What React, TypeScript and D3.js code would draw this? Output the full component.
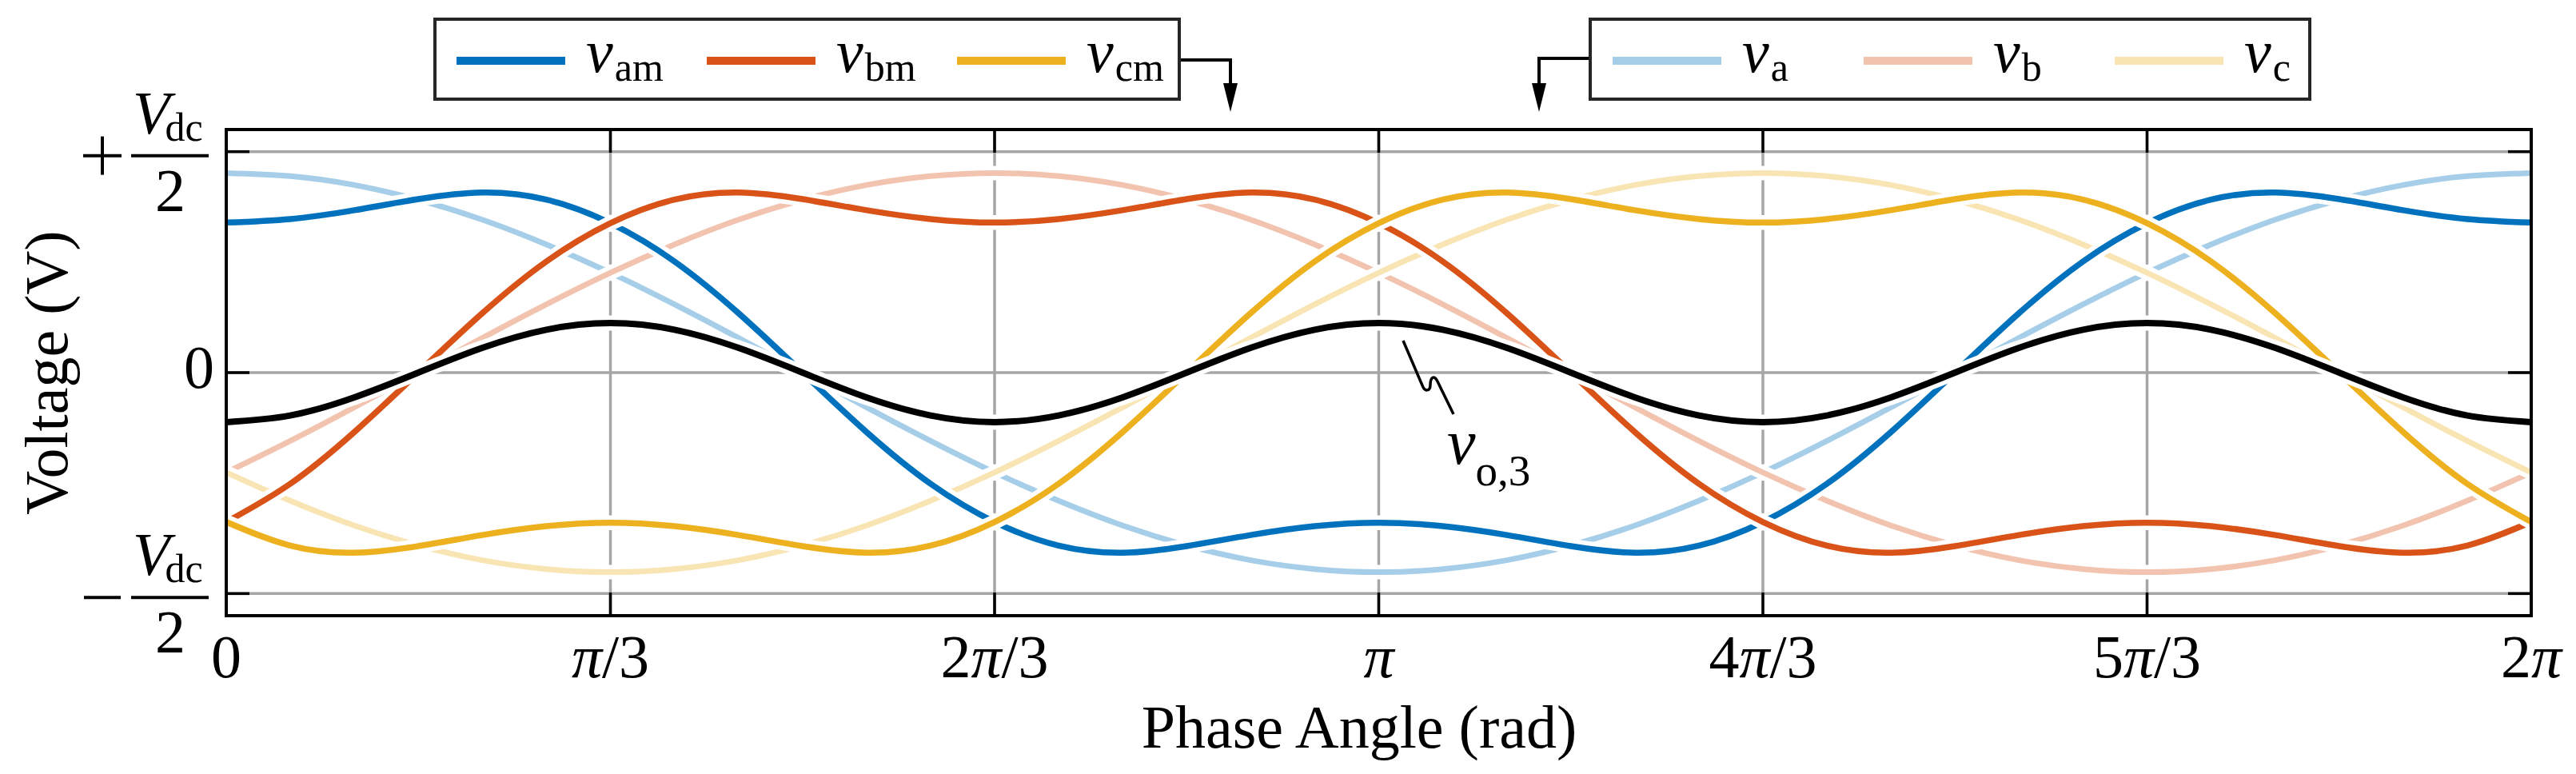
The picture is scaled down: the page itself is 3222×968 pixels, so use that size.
import React from 'react';
import * as d3 from 'd3';

// Phase angle samples (degrees)
const phaseDeg = [0,10,20,30,40,50,60,70,80,90,100,110,120,130,140,150,160,170,180,190,200,210,220,230,240,250,260,270,280,290,300,310,320,330,340,350,360];

// Voltages in units of Vdc/2
const vA = [0.903,0.889,0.849,0.782,0.692,0.580,0.452,0.309,0.157,0,-0.157,-0.309,-0.452,-0.580,-0.692,-0.782,-0.849,-0.889,-0.903,-0.889,-0.849,-0.782,-0.692,-0.580,-0.452,-0.309,-0.157,0,0.157,0.309,0.452,0.580,0.692,0.782,0.849,0.889,0.903];
const vB = [-0.452,-0.309,-0.157,0,0.157,0.309,0.452,0.580,0.692,0.782,0.849,0.889,0.903,0.889,0.849,0.782,0.692,0.580,0.452,0.309,0.157,0,-0.157,-0.309,-0.452,-0.580,-0.692,-0.782,-0.849,-0.889,-0.903,-0.889,-0.849,-0.782,-0.692,-0.580,-0.452];
const vC = [-0.452,-0.580,-0.692,-0.782,-0.849,-0.889,-0.903,-0.889,-0.849,-0.782,-0.692,-0.580,-0.452,-0.309,-0.157,0,0.157,0.309,0.452,0.580,0.692,0.782,0.849,0.889,0.903,0.889,0.849,0.782,0.692,0.580,0.452,0.309,0.157,0,-0.157,-0.309,-0.452];
const vAm = [0.679,0.695,0.735,0.785,0.815,0.783,0.676,0.503,0.269,0,-0.269,-0.503,-0.676,-0.783,-0.815,-0.785,-0.735,-0.695,-0.679,-0.695,-0.735,-0.785,-0.815,-0.783,-0.676,-0.503,-0.269,0,0.269,0.503,0.676,0.783,0.815,0.785,0.735,0.695,0.679];
const vBm = [-0.676,-0.503,-0.269,0,0.269,0.503,0.676,0.783,0.815,0.785,0.735,0.695,0.679,0.695,0.735,0.785,0.815,0.783,0.676,0.503,0.269,0,-0.269,-0.503,-0.676,-0.783,-0.815,-0.785,-0.735,-0.695,-0.679,-0.695,-0.735,-0.785,-0.815,-0.783,-0.676];
const vCm = [-0.676,-0.783,-0.815,-0.785,-0.735,-0.695,-0.679,-0.695,-0.735,-0.785,-0.815,-0.783,-0.676,-0.503,-0.269,0,0.269,0.503,0.676,0.783,0.815,0.785,0.735,0.695,0.679,0.695,0.735,0.785,0.815,0.783,0.676,0.503,0.269,0,-0.269,-0.503,-0.676];
const vO3 = [-0.224,-0.194,-0.112,0,0.112,0.194,0.224,0.194,0.112,0,-0.112,-0.194,-0.224,-0.194,-0.112,0,0.112,0.194,0.224,0.194,0.112,0,-0.112,-0.194,-0.224,-0.194,-0.112,0,0.112,0.194,0.224,0.194,0.112,0,-0.112,-0.194,-0.224];

const xTickVals = [0, Math.PI / 3, 2 * Math.PI / 3, Math.PI, 4 * Math.PI / 3, 5 * Math.PI / 3, 2 * Math.PI];
const xTickLabels = ['0', 'π/3', '2π/3', 'π', '4π/3', '5π/3', '2π'];
const yTickVals = [-1, 0, 1];

const W = 3222;
const H = 968;
const L = 283, R = 3166, T = 162, B = 770;
const FONT = "'Liberation Serif', 'DejaVu Serif', serif";

const xScale = d3.scaleLinear().domain([0, 2 * Math.PI]).range([L, R]);
const yScale = d3.scaleLinear().domain([-1.1, 1.1]).range([B, T]);

const series = [
  { key: 'va', sub: 'a', values: vA, color: '#A6CEE9', width: 7 },
  { key: 'vb', sub: 'b', values: vB, color: '#F2C3AF', width: 7 },
  { key: 'vc', sub: 'c', values: vC, color: '#F9E4B3', width: 7 },
  { key: 'vam', sub: 'am', values: vAm, color: '#0072BD', width: 7.5 },
  { key: 'vbm', sub: 'bm', values: vBm, color: '#D95319', width: 7.5 },
  { key: 'vcm', sub: 'cm', values: vCm, color: '#EDB120', width: 7.5 },
  { key: 'vo3', sub: 'o,3', values: vO3, color: '#000000', width: 8 },
];

const lineGen = d3
  .line<number>()
  .x((_, i) => xScale((phaseDeg[i] * Math.PI) / 180))
  .y((d) => yScale(d))
  .curve(d3.curveNatural);

const txt = { fontFamily: FONT } as React.CSSProperties;

function TickLabel({ label, x, y }: { label: string; x: number; y: number }) {
  const parts = label.split(/(π)/).filter((p) => p.length > 0);
  return (
    <text x={x} y={y} textAnchor="middle" style={txt} fontSize={76}>
      {parts.map((p, i) => (
        <tspan key={i} fontStyle={p === 'π' ? 'italic' : 'normal'}>{p}</tspan>
      ))}
    </text>
  );
}

function VSub({ x, y, sub, size = 76, subSize = 50, dy = 11, dx = 2 }: { x: number; y: number; sub: string; size?: number; subSize?: number; dy?: number; dx?: number }) {
  return (
    <text x={x} y={y} style={txt} fontSize={size}>
      <tspan fontStyle="italic">v</tspan>
      <tspan fontSize={subSize} dy={dy} dx={dx}>{sub}</tspan>
    </text>
  );
}

function Legend({ x0, items, step }: { x0: number; items: typeof series; step: number }) {
  return (
    <g>
      {items.map((s, i) => {
        const sx = x0 + i * step;
        return (
          <g key={s.key}>
            <line x1={sx} x2={sx + 136} y1={76} y2={76} stroke={s.color} strokeWidth={10} />
            <VSub x={sx + 162} y={90} sub={s.sub} />
          </g>
        );
      })}
    </g>
  );
}

export default function App() {
  return (
    <svg width={W} height={H} style={{ position: 'absolute', left: 0, top: 0, background: '#fff', fontFamily: FONT }}>
      <defs>
        <clipPath id="plotClip">
          <rect x={L} y={T} width={R - L} height={B - T} />
        </clipPath>
      </defs>
      <rect x={0} y={0} width={W} height={H} fill="#fff" />

      {/* grid */}
      <g stroke="#a6a6a6" strokeWidth={3.5}>
        {xTickVals.map((v, i) => (
          <line key={'gx' + i} x1={xScale(v)} x2={xScale(v)} y1={T} y2={B} />
        ))}
        {yTickVals.map((v, i) => (
          <line key={'gy' + i} x1={L} x2={R} y1={yScale(v)} y2={yScale(v)} />
        ))}
      </g>

      {/* data with white halos */}
      <g clipPath="url(#plotClip)" fill="none" strokeLinejoin="round">
        {series.map((s) => {
          const d = lineGen(s.values) || '';
          return (
            <g key={s.key}>
              <path d={d} stroke="#fff" strokeWidth={s.width + 11} />
              <path d={d} stroke={s.color} strokeWidth={s.width} />
            </g>
          );
        })}
      </g>

      {/* ticks */}
      <g stroke="#000" strokeWidth={3.5}>
        {xTickVals.map((v, i) => (
          <g key={'tx' + i}>
            <line x1={xScale(v)} x2={xScale(v)} y1={B} y2={B - 29} />
            <line x1={xScale(v)} x2={xScale(v)} y1={T} y2={T + 29} />
          </g>
        ))}
        {yTickVals.map((v, i) => (
          <g key={'ty' + i}>
            <line x1={L} x2={L + 29} y1={yScale(v)} y2={yScale(v)} />
            <line x1={R} x2={R - 29} y1={yScale(v)} y2={yScale(v)} />
          </g>
        ))}
      </g>
      <rect x={L} y={T} width={R - L} height={B - T} fill="none" stroke="#000" strokeWidth={4} />

      {/* x tick labels */}
      {xTickVals.map((v, i) => (
        <TickLabel key={'xl' + i} label={xTickLabels[i]} x={xScale(v)} y={847} />
      ))}

      {/* y tick labels */}
      <text x={268} y={yScale(0) + 19} textAnchor="end" style={txt} fontSize={76}>0</text>
      {[1, -1].map((v) => {
        const barY = yScale(v) + 5;
        return (
          <g key={'yf' + v}>
            {v < 0 && <line x1={105} x2={151} y1={barY} y2={barY} stroke="#000" strokeWidth={4} />}
            {v > 0 && (
              <g stroke="#000" strokeWidth={4}>
                <line x1={104} x2={152} y1={barY} y2={barY} />
                <line x1={128} x2={128} y1={barY - 24} y2={barY + 24} />
              </g>
            )}
            <line x1={164} x2={261} y1={barY} y2={barY} stroke="#000" strokeWidth={4} />
            <text x={166} y={barY - 28} style={txt} fontSize={76}>
              <tspan fontStyle="italic">V</tspan>
              <tspan fontSize={50} dy={9} dx={-6}>dc</tspan>
            </text>
            <text x={213} y={barY + 69} style={txt} fontSize={76} textAnchor="middle">2</text>
          </g>
        );
      })}

      {/* axis labels */}
      <text x={1700} y={935} textAnchor="middle" style={txt} fontSize={76}>Phase Angle (rad)</text>
      <text transform={`translate(84, ${yScale(0)}) rotate(-90)`} textAnchor="middle" style={txt} fontSize={76}>Voltage (V)</text>

      {/* legends */}
      <rect x={544} y={24} width={931} height={100} fill="#fff" stroke="#262626" strokeWidth={4} />
      <Legend x0={571} items={series.slice(3, 6)} step={313} />
      <rect x={1989} y={24} width={900} height={100} fill="#fff" stroke="#262626" strokeWidth={4} />
      <Legend x0={2017} items={series.slice(0, 3)} step={314} />

      {/* legend arrows */}
      <g stroke="#000" strokeWidth={4} fill="none">
        <polyline points="1477,75 1539,75 1539,110" />
        <polyline points="1987,73 1925,73 1925,110" />
      </g>
      <polygon points="1530,104 1548,104 1539,140" fill="#000" />
      <polygon points="1916,104 1934,104 1925,140" fill="#000" />

      {/* v_o,3 annotation */}
      <path d="M1755,426 L1779,482 C1782,490 1789,490 1789,481 C1789,472 1794,468 1798,477 L1818,518" fill="none" stroke="#000" strokeWidth={3.5} />
      <VSub x={1810} y={580} sub="o,3" size={80} subSize={55} dy={27} dx={0} />
    </svg>
  );
}
